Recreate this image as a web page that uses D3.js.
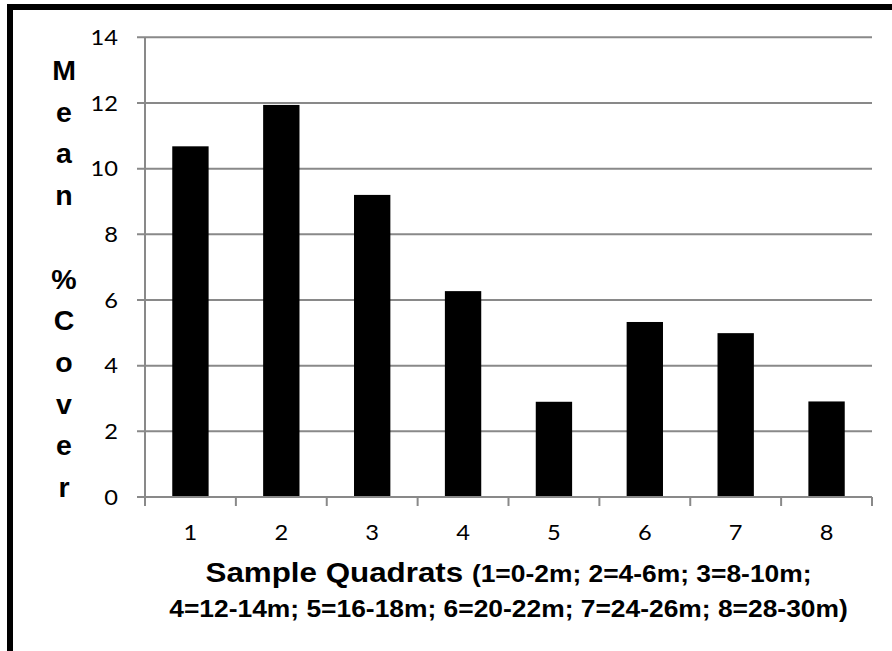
<!DOCTYPE html>
<html>
<head>
<meta charset="utf-8">
<script src="https://cdn.jsdelivr.net/npm/d3@7"></script>
<style>
  html, body { margin: 0; padding: 0; background: #fff; }
  svg { display: block; }
</style>
</head>
<body>
<div id="chart"></div>
<script>
// data
var categories = ["1", "2", "3", "4", "5", "6", "7", "8"];
var meanCover = [10.68, 11.94, 9.2, 6.27, 2.9, 5.33, 4.99, 2.91];
var yTicks = [0, 2, 4, 6, 8, 10, 12, 14];
var yLabelChars = ["M", "e", "a", "n", "", "%", "C", "o", "v", "e", "r"];
var xTitleMain = "Sample Quadrats";
var xTitleLine1 = "(1=0-2m; 2=4-6m; 3=8-10m;";
var xTitleLine2 = "4=12-14m; 5=16-18m; 6=20-22m; 7=24-26m; 8=28-30m)";

var width = 892, height = 651;
var plot = {left: 145, right: 872, top: 37.3, bottom: 497};
var stretch = 1.1;   // text in the reference is a bit wider than tall
var gridColor = "#898989";

var svg = d3.select("#chart").append("svg")
    .attr("width", width)
    .attr("height", height);

// thick frame, runs off the right and bottom of the picture
svg.append("rect")
    .attr("x", 10).attr("y", 7)
    .attr("width", 1000).attr("height", 1000)
    .attr("fill", "#fff")
    .attr("stroke", "#000")
    .attr("stroke-width", 6);

var y = d3.scaleLinear()
    .domain([0, 14])
    .range([plot.bottom, plot.top]);

var x = d3.scaleBand()
    .domain(categories)
    .range([plot.left, plot.right])
    .paddingInner(0.6)
    .paddingOuter(0.3);

// gridlines + y ticks
svg.append("g").selectAll("line")
    .data(yTicks)
  .enter().append("line")
    .attr("x1", plot.left - 8)
    .attr("x2", plot.right)
    .attr("y1", function(d) { return y(d); })
    .attr("y2", function(d) { return y(d); })
    .attr("stroke", gridColor)
    .attr("stroke-width", 2);

// y tick labels
svg.append("g").selectAll("text")
    .data(yTicks)
  .enter().append("text")
    .attr("transform", function(d) { return "translate(118," + y(d) + ") scale(" + stretch + ",1)"; })
    .attr("text-anchor", "end")
    .attr("dy", "0.36em")
    .style("font-family", "Lato, 'Open Sans', sans-serif")
    .style("font-size", "21.5px")
    .attr("fill", "#000")
    .text(function(d) { return d; });

// bars
svg.append("g").selectAll("rect")
    .data(meanCover)
  .enter().append("rect")
    .attr("x", function(d, i) { return x(categories[i]); })
    .attr("y", function(d) { return y(d); })
    .attr("width", x.bandwidth())
    .attr("height", function(d) { return y(0) - y(d); })
    .attr("fill", "#000");

// y axis line
svg.append("line")
    .attr("x1", plot.left).attr("x2", plot.left)
    .attr("y1", plot.top).attr("y2", plot.bottom + 9)
    .attr("stroke", gridColor)
    .attr("stroke-width", 2);

// x axis line and category boundary ticks
svg.append("line")
    .attr("x1", plot.left).attr("x2", plot.right)
    .attr("y1", plot.bottom).attr("y2", plot.bottom)
    .attr("stroke", gridColor)
    .attr("stroke-width", 2);

var bounds = categories.map(function(c) { return x(c) - x.step() * x.paddingInner() / 2; });
bounds.push(plot.right);
svg.append("g").selectAll("line")
    .data(bounds)
  .enter().append("line")
    .attr("x1", function(d) { return d; })
    .attr("x2", function(d) { return d; })
    .attr("y1", plot.bottom)
    .attr("y2", plot.bottom + 9)
    .attr("stroke", gridColor)
    .attr("stroke-width", 2);

// x tick labels
svg.append("g").selectAll("text")
    .data(categories)
  .enter().append("text")
    .attr("transform", function(d) { return "translate(" + (x(d) + x.bandwidth() / 2) + ",540) scale(" + stretch + ",1)"; })
    .attr("text-anchor", "middle")
    .style("font-family", "Lato, 'Open Sans', sans-serif")
    .style("font-size", "21.5px")
    .attr("fill", "#000")
    .text(function(d) { return d; });

// y axis title, one letter per line
var yTitle = svg.append("text")
    .attr("text-anchor", "middle")
    .style("font-family", "'Liberation Sans', Arial, sans-serif")
    .style("font-weight", "bold")
    .style("font-size", "28.5px")
    .attr("fill", "#000");
yTitle.selectAll("tspan")
    .data(yLabelChars)
  .enter().append("tspan")
    .attr("x", 64)
    .attr("y", function(d, i) { return 80 + i * 41.7; })
    .text(function(d) { return d; });

// x axis title, two lines
var cx = (plot.left + plot.right) / 2;
var t1 = svg.append("text")
    .attr("transform", "translate(" + cx + ",582) scale(" + stretch + ",1)")
    .attr("text-anchor", "middle")
    .style("font-family", "'Liberation Sans', Arial, sans-serif")
    .style("font-weight", "bold")
    .attr("fill", "#000");
t1.append("tspan").style("font-size", "28.5px").text(xTitleMain + " ");
t1.append("tspan").style("font-size", "24px").text(xTitleLine1);

svg.append("text")
    .attr("transform", "translate(" + cx + ",617) scale(" + stretch + ",1)")
    .attr("text-anchor", "middle")
    .style("font-family", "'Liberation Sans', Arial, sans-serif")
    .style("font-weight", "bold")
    .style("font-size", "24px")
    .attr("fill", "#000")
    .text(xTitleLine2);
</script>
</body>
</html>
